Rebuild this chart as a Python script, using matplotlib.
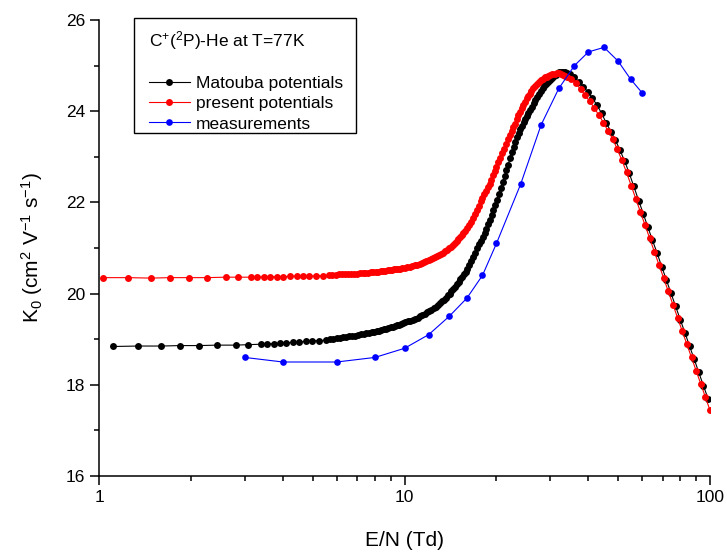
import matplotlib
matplotlib.use("Agg")
import matplotlib.pyplot as plt
import matplotlib.ticker as mticker
from matplotlib.patches import Rectangle

plt.rcParams["font.family"] = ["Liberation Sans", "DejaVu Sans"]
plt.rcParams["mathtext.fontset"] = "custom"
plt.rcParams["mathtext.rm"] = "Liberation Sans"
plt.rcParams["mathtext.default"] = "regular"

# --- data ---------------------------------------------------------------
# Matouba potentials (black)
black_x = [1.11, 1.34, 1.60, 1.84, 2.12, 2.44, 2.80, 3.08, 3.39, 3.56,
           3.73, 3.91, 4.10, 4.31, 4.52, 4.76, 4.99, 5.26, 5.53,
           5.7, 5.85, 6.0, 6.15, 6.3, 6.45, 6.6, 6.75, 6.9, 7.05,
           7.2, 7.35, 7.5, 7.65, 7.8, 7.95, 8.1, 8.25, 8.4, 8.55,
           8.7, 8.85, 9.0, 9.15, 9.3, 9.45, 9.6, 9.75, 9.9, 10.05,
           10.25, 10.45, 10.65, 10.85, 11.05, 11.25, 11.45, 11.65, 11.85, 12.05,
           12.25, 12.45, 12.65, 12.85, 13.05, 13.25, 13.45, 13.65, 13.85, 14.05,
           14.25, 14.45, 14.65, 14.85, 15.05, 15.25, 15.45, 15.65, 15.85, 16.05,
           16.3, 16.55, 16.8, 17.05, 17.3, 17.55, 17.8, 18.05, 18.3, 18.55,
           18.8, 19.05, 19.3, 19.55, 19.8, 20.05,
           20.35, 20.65, 20.95, 21.25, 21.55, 21.85, 22.15, 22.45, 22.75, 23.05,
           23.35, 23.65, 23.95, 24.25, 24.55, 24.85, 25.15, 25.45, 25.75, 26.1,
           26.45, 26.8, 27.15, 27.5, 27.9, 28.3, 28.7, 29.1, 29.5, 29.9,
           30.35, 30.8, 31.25, 31.7, 32.15, 32.6, 33.05, 33.5, 34.0,
           34.8, 36.0, 37.2, 38.5, 39.8, 41.2, 42.7, 44.2, 45.7, 47.4,
           49.0, 50.7, 52.6, 54.4, 56.3, 58.4, 60.4, 62.6, 64.8, 67.2,
           69.5, 72.0, 74.5, 77.2, 79.9, 82.8, 85.7, 88.8, 91.9, 95.2,
           98.6]
black_y = [18.84, 18.85, 18.85, 18.86, 18.86, 18.87, 18.87, 18.88, 18.89, 18.90,
           18.90, 18.91, 18.92, 18.93, 18.94, 18.95, 18.96, 18.97, 18.98,
           19.00, 19.01, 19.02, 19.03, 19.04, 19.05, 19.06, 19.07, 19.08, 19.09,
           19.11, 19.12, 19.13, 19.14, 19.15, 19.16, 19.18, 19.19, 19.20, 19.22,
           19.23, 19.24, 19.26, 19.27, 19.29, 19.31, 19.32, 19.34, 19.35, 19.37,
           19.39, 19.41, 19.43, 19.45, 19.47, 19.50, 19.53, 19.56, 19.59, 19.62,
           19.65, 19.68, 19.71, 19.75, 19.79, 19.83, 19.87, 19.91, 19.96, 20.00,
           20.05, 20.10, 20.15, 20.20, 20.25, 20.31, 20.36, 20.42, 20.48, 20.55,
           20.63, 20.72, 20.81, 20.90, 20.99, 21.08, 21.16, 21.24, 21.33, 21.42,
           21.52, 21.62, 21.73, 21.84, 21.95, 22.06,
           22.19, 22.32, 22.44, 22.57, 22.70, 22.83, 22.97, 23.10, 23.22, 23.33,
           23.43, 23.52, 23.60, 23.68, 23.76, 23.83, 23.90, 23.96, 24.03, 24.10,
           24.17, 24.24, 24.31, 24.38, 24.44, 24.50, 24.55, 24.60, 24.65, 24.69,
           24.73, 24.77, 24.80, 24.83, 24.85, 24.87, 24.87, 24.86, 24.84,
           24.81, 24.74, 24.65, 24.54, 24.42, 24.29, 24.13, 23.95, 23.75, 23.55,
           23.37, 23.15, 22.90, 22.64, 22.35, 22.04, 21.75, 21.46, 21.17, 20.88,
           20.59, 20.30, 20.01, 19.72, 19.43, 19.14, 18.85, 18.56, 18.27, 17.98,
           17.69]

# present potentials (red)
red_x = [1.03, 1.24, 1.48, 1.71, 1.97, 2.26, 2.60, 2.86, 3.15, 3.30,
         3.46, 3.63, 3.82, 4.01, 4.22, 4.44, 4.64, 4.88, 5.13, 5.42,
         5.65, 5.8, 5.95, 6.1, 6.25, 6.4, 6.55, 6.7, 6.85, 7.0,
         7.15, 7.3, 7.45, 7.6, 7.75, 7.9, 8.05, 8.2, 8.35, 8.5,
         8.65, 8.8, 8.95, 9.1, 9.25, 9.4, 9.55, 9.7, 9.85, 10.0,
         10.2, 10.4, 10.6, 10.8, 11.0, 11.2, 11.4, 11.6, 11.8, 12.0,
         12.2, 12.4, 12.6, 12.8, 13.0, 13.2, 13.4, 13.6, 13.8, 14.0,
         14.2, 14.4, 14.6, 14.8, 15.0, 15.2, 15.4, 15.6, 15.8, 16.0,
         16.25, 16.5, 16.75, 17.0, 17.25, 17.5, 17.75, 18.0, 18.25, 18.5,
         18.75, 19.0, 19.25, 19.5, 19.75, 20.0,
         20.3, 20.6, 20.9, 21.2, 21.5, 21.8, 22.1, 22.4, 22.7, 23.0,
         23.3, 23.6, 23.9, 24.2, 24.5, 24.8, 25.1, 25.4, 25.7, 26.0,
         26.4, 26.8, 27.2, 27.6, 28.0, 28.4, 28.8, 29.2, 29.6, 30.0,
         30.5, 31.0, 31.5, 32.0, 32.5, 33.0, 33.5, 34.0,
         35.2, 36.4, 37.7, 39.0, 40.4, 41.8, 43.3, 44.8, 46.4, 48.0,
         49.7, 51.5, 53.3, 55.2, 57.2, 59.2, 61.3, 63.5, 65.8, 68.1,
         70.5, 73.0, 75.6, 78.3, 81.1, 84.0, 87.0, 90.1, 93.3, 96.6,
         100.0]
red_y = [20.35, 20.35, 20.34, 20.35, 20.35, 20.35, 20.36, 20.36, 20.36, 20.36,
         20.37, 20.37, 20.37, 20.37, 20.38, 20.38, 20.38, 20.38, 20.39, 20.39,
         20.40, 20.41, 20.41, 20.42, 20.42, 20.43, 20.43, 20.43, 20.44, 20.44,
         20.45, 20.45, 20.46, 20.46, 20.47, 20.47, 20.48, 20.48, 20.49, 20.50,
         20.50, 20.51, 20.52, 20.52, 20.53, 20.53, 20.54, 20.55, 20.56, 20.57,
         20.58, 20.59, 20.61, 20.62, 20.63, 20.65, 20.67, 20.69, 20.71, 20.73,
         20.75, 20.77, 20.80, 20.82, 20.85, 20.87, 20.90, 20.93, 20.96, 21.00,
         21.03, 21.07, 21.11, 21.15, 21.19, 21.24, 21.28, 21.33, 21.38, 21.43,
         21.50, 21.58, 21.66, 21.75, 21.84, 21.93, 22.02, 22.10, 22.18, 22.25,
         22.33, 22.41, 22.50, 22.59, 22.68, 22.78,
         22.88, 22.98, 23.08, 23.18, 23.28, 23.38, 23.48, 23.57, 23.65, 23.73,
         23.82, 23.91, 23.99, 24.06, 24.14, 24.21, 24.28, 24.33, 24.38, 24.44,
         24.50, 24.55, 24.60, 24.64, 24.68, 24.71, 24.74, 24.76, 24.78, 24.80,
         24.81, 24.82, 24.83, 24.83, 24.82, 24.80, 24.78, 24.76,
         24.70, 24.62, 24.48, 24.35, 24.22, 24.07, 23.91, 23.75, 23.56, 23.40,
         23.17, 22.92, 22.66, 22.37, 22.08, 21.79, 21.50, 21.21, 20.92, 20.63,
         20.34, 20.05, 19.76, 19.47, 19.18, 18.89, 18.60, 18.31, 18.02, 17.73,
         17.44]

# measurements (blue)
meas_x = [3, 4, 6, 8, 10, 12, 14, 16, 18, 20, 24, 28, 32, 36, 40, 45, 50, 55, 60]
meas_y = [18.6, 18.5, 18.5, 18.6, 18.8, 19.1, 19.5, 19.9, 20.4, 21.1,
          22.4, 23.7, 24.5, 25.0, 25.3, 25.4, 25.1, 24.7, 24.4]

LEGEND_TITLE = r"C$^{+}$($^{2}$P)-He at T=77K"
W, H = 727, 552

fig = plt.figure(figsize=(W / 100, H / 100), dpi=100)
ax = fig.add_axes([99 / W, 1 - 476 / H, 611 / W, 456 / H])

ms = 5.0
ax.plot(black_x, black_y, "-o", color="black", lw=0.8, ms=ms, mew=0,
        label="Matouba potentials")
ax.plot(red_x, red_y, "-o", color="red", lw=0.8, ms=ms, mew=0,
        label="present potentials")
ax.plot(meas_x, meas_y, "-o", color="blue", lw=0.8, ms=4.8, mew=0,
        label="measurements")

ax.set_xscale("log")
ax.set_xlim(1, 100)
ax.set_ylim(16, 26)

ax.spines[["top", "right"]].set_visible(False)
for side in ["left", "bottom"]:
    ax.spines[side].set_linewidth(1.1)

ax.xaxis.set_major_locator(mticker.LogLocator(base=10, numticks=5))
ax.xaxis.set_minor_locator(mticker.LogLocator(base=10, subs=range(2, 10), numticks=20))
ax.xaxis.set_major_formatter(mticker.FormatStrFormatter("%g"))
ax.xaxis.set_minor_formatter(mticker.NullFormatter())
ax.yaxis.set_major_locator(mticker.MultipleLocator(2))
ax.yaxis.set_minor_locator(mticker.MultipleLocator(1))

ax.tick_params(which="major", direction="out", length=6.8, width=1.1,
               labelsize=12.5, pad=3, colors="black")
ax.tick_params(which="minor", direction="out", length=3.8, width=1.1)

ax.set_xlabel("E/N (Td)", fontsize=15, labelpad=19)
ax.set_ylabel(r"K$_0$ (cm$^2$ V$^{-1}$ s$^{-1}$)", fontsize=15, labelpad=15)

# legend: frame + title + entries, placed like the original Origin box
fig.add_artist(Rectangle((134 / W, 1 - 133 / H), 222 / W, 115 / H,
                         transform=fig.transFigure, facecolor="white",
                         edgecolor="black", linewidth=1.0, zorder=5))
fig.text(149 / W, 1 - 46 / H, LEGEND_TITLE, fontsize=12.5,
         ha="left", va="baseline", zorder=6)
handles, labels = ax.get_legend_handles_labels()
leg = fig.legend(handles, labels, loc="upper left",
                 bbox_to_anchor=(149 / W, 1 - 76 / H),
                 fontsize=12.5, frameon=False,
                 borderpad=0, borderaxespad=0, handlelength=2.35,
                 handletextpad=0.35, labelspacing=0.29)
leg.set_zorder(7)

fig.savefig("out.png", dpi=100)
